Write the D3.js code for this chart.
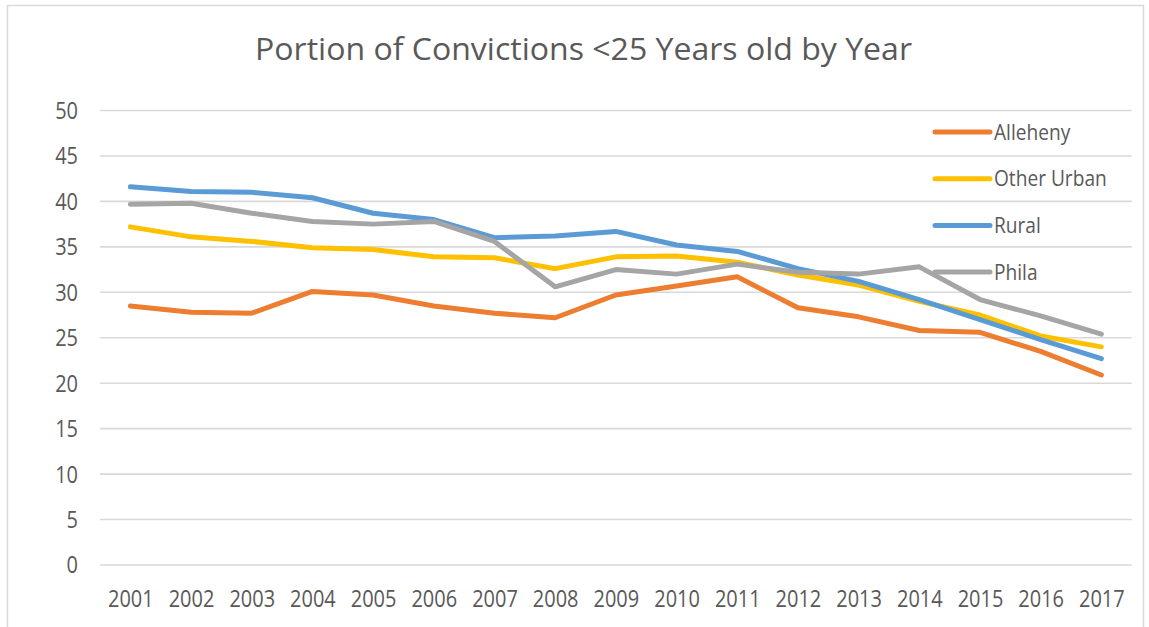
<!DOCTYPE html>
<html>
<head>
<meta charset="utf-8">
<script src="https://cdn.jsdelivr.net/npm/d3@7"></script>
<style>
  body {margin: 0; background: #fff;}
  svg text {font-family: "Open Sans", sans-serif; fill: #595959;}
</style>
</head>
<body>
<div id="chart"></div>
<script>
//-- Data
var years = ['2001', '2002', '2003', '2004', '2005', '2006', '2007', '2008', '2009',
             '2010', '2011', '2012', '2013', '2014', '2015', '2016', '2017'];
var series_names = ['Alleheny', 'Other Urban', 'Rural', 'Phila'];
var series_colors = ['#ED7D31', '#FFC000', '#5B9BD5', '#A5A5A5'];
var alleheny    = [28.5, 27.8, 27.7, 30.1, 29.7, 28.5, 27.7, 27.2, 29.7, 30.7, 31.7, 28.3, 27.3, 25.8, 25.6, 23.5, 20.9];
var other_urban = [37.2, 36.1, 35.6, 34.9, 34.7, 33.9, 33.8, 32.6, 33.9, 34.0, 33.3, 31.9, 30.8, 29.0, 27.5, 25.2, 24.0];
var rural       = [41.6, 41.1, 41.0, 40.4, 38.7, 38.0, 36.0, 36.2, 36.7, 35.2, 34.5, 32.6, 31.2, 29.2, 27.0, 24.8, 22.7];
var phila       = [39.7, 39.8, 38.7, 37.8, 37.5, 37.8, 35.6, 30.6, 32.5, 32.0, 33.1, 32.2, 32.0, 32.8, 29.2, 27.4, 25.4];
var y_ticks = [0, 5, 10, 15, 20, 25, 30, 35, 40, 45, 50];
var title = 'Portion of Convictions <25 Years old by Year';

var series_values = [alleheny, other_urban, rural, phila];

var tot_width = 1149;
var tot_height = 627;
var margin = {left: 100, right: 17.3, top: 110.5, bottom: 62};
var width = tot_width - margin.left - margin.right;
var height = tot_height - margin.top - margin.bottom;
var squeeze = 0.85;

var svg_root = d3.select('#chart')
  .append('svg')
    .attr('width', tot_width)
    .attr('height', tot_height);

//-- Frame
svg_root.append('rect')
    .attr('x', 7.5)
    .attr('y', 5.5)
    .attr('width', 1136)
    .attr('height', 640)
    .attr('fill', '#fff')
    .attr('stroke', '#d9d9d9')
    .attr('stroke-width', 1.5)

//-- Title
svg_root.append('text')
    .attr('x', 583.5)
    .attr('y', 60)
    .attr('text-anchor', 'middle')
    .style('font-size', '31px')
    .text(title)
    .attr('textLength', 657)
    .attr('lengthAdjust', 'spacingAndGlyphs')

var svg = svg_root.append('g')
    .attr('transform', 'translate(' + margin.left + ',' + margin.top + ')');

//-- Scales
var x = d3.scalePoint()
  .domain(years)
  .range([0, width])
  .padding(0.5);

var y = d3.scaleLinear()
  .domain([0, 50])
  .range([height, 0]);

//-- Gridlines
svg.selectAll('.grid')
  .data(y_ticks)
  .enter()
  .append('line')
    .attr('class', 'grid')
    .attr('x1', 0)
    .attr('x2', width)
    .attr('y1', function (d) {return y(d);})
    .attr('y2', function (d) {return y(d);})
    .attr('stroke', '#d9d9d9')
    .attr('stroke-width', 1.6)

//-- y-axis
var y_axis = d3.axisLeft(y)
  .tickValues(y_ticks)
  .tickSize(0)
  .tickPadding(0);

var gy = svg.append('g')
  .attr('class', 'yaxis')
  .call(y_axis);
gy.select('.domain').remove();
gy.selectAll('text')
    .attr('x', -22 / squeeze)
    .attr('dy', '0.34em')
    .attr('transform', 'scale(' + squeeze + ',1)')
    .style('font-size', '23.5px')
    .style('fill', '#595959')

//-- x-axis
var x_axis = d3.axisBottom(x)
  .tickSize(0)
  .tickPadding(0);

var gx = svg.append('g')
  .attr('class', 'xaxis')
  .attr('transform', 'translate(0,' + height + ')')
  .call(x_axis);
gx.select('.domain').remove();
gx.selectAll('text')
    .attr('y', 42)
    .attr('dy', 0)
    .attr('transform', 'scale(' + squeeze + ',1)')
    .style('font-size', '23.5px')
    .style('fill', '#595959')

//-- Lines
var line = d3.line()
  .x(function (d, i) {return x(years[i]);})
  .y(function (d) {return y(d);});

svg.selectAll('.series')
  .data(series_values)
  .enter()
  .append('path')
    .attr('class', 'series')
    .attr('d', function (d) {return line(d);})
    .attr('fill', 'none')
    .attr('stroke', function (d, i) {return series_colors[i];})
    .attr('stroke-width', 5)
    .attr('stroke-linejoin', 'round')
    .attr('stroke-linecap', 'round')

//-- Legend
var legend_pos = {x1: 935, x2: 990, tx: 994, y: 132, dy: 46.7};

var legend = svg_root.selectAll('.legend')
  .data(series_names)
  .enter()
  .append('g')
    .attr('class', 'legend')
    .attr('transform', function (d, i) {return 'translate(0,' + (legend_pos.y + i * legend_pos.dy) + ')';});

legend.append('line')
    .attr('x1', legend_pos.x1)
    .attr('x2', legend_pos.x2)
    .attr('y1', 0)
    .attr('y2', 0)
    .attr('stroke', function (d, i) {return series_colors[i];})
    .attr('stroke-width', 5)
    .attr('stroke-linecap', 'round')

legend.append('text')
    .attr('transform', 'translate(' + legend_pos.tx + ',0) scale(' + squeeze + ',1)')
    .attr('dy', '0.34em')
    .style('font-size', '22.5px')
    .text(function (d) {return d;})
</script>
</body>
</html>
